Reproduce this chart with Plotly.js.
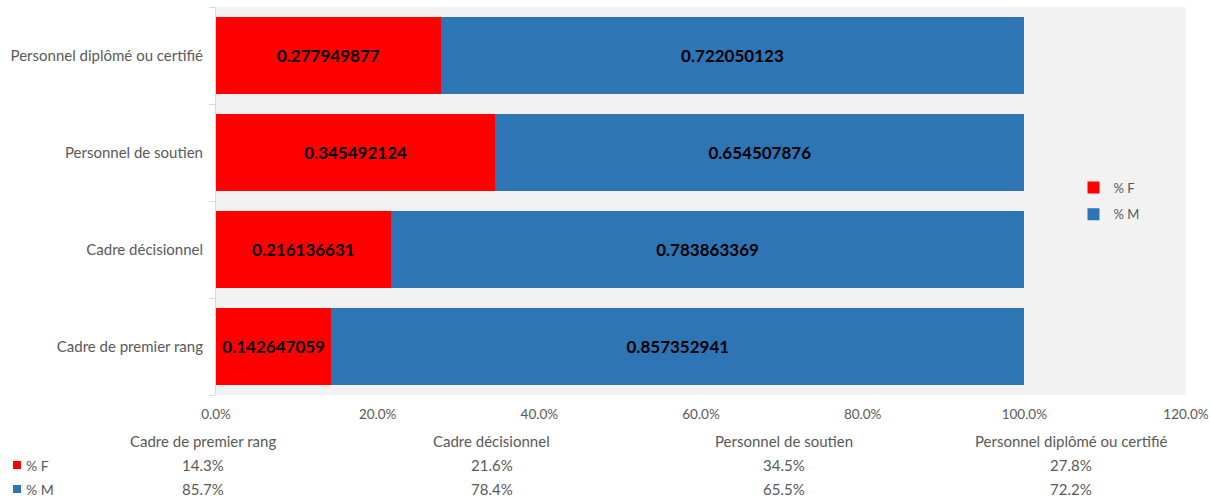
<!DOCTYPE html>
<html>
<head>
<meta charset="utf-8">
<script src="https://cdn.plot.ly/plotly-3.0.1.min.js"></script>
<style>html,body{margin:0;padding:0;background:#fff;}#chart{width:1210px;height:498px;}</style>
</head>
<body>
<div id="chart"></div>
<script>
const categories = ["Cadre de premier rang", "Cadre décisionnel", "Personnel de soutien", "Personnel diplômé ou certifié"];
const seriesNames = ["% F", "% M"];
const pctF = [0.142647059, 0.216136631, 0.345492124, 0.277949877];
const pctM = [0.857352941, 0.783863369, 0.654507876, 0.722050123];
const xTickVals = [0, 0.2, 0.4, 0.6, 0.8, 1.0, 1.2];

const colors = ["#ff0000", "#2e75b6"];
const grayText = "#595959";
const FONT = "Lato, 'Open Sans', sans-serif";

function barTrace(name, vals, color, group) {
  return {
    type: "bar", orientation: "h", name: name,
    y: categories, x: vals,
    text: vals.map(v => String(v)),
    textposition: "inside", insidetextanchor: "middle", textangle: 0,
    textfont: {family: FONT, size: 17, color: "#000", weight: "bold"},
    marker: {color: color, line: {width: 0}},
    legendgroup: group, hoverinfo: "x+y"
  };
}

const data = [
  barTrace(seriesNames[0], pctF, colors[0], "F"),
  barTrace(seriesNames[1], pctM, colors[1], "M")
];

// data-table annotations below plot
const colX = [-0.0134, 0.2845, 0.5856, 0.8814];
const rowY = {head: -0.1186, F: -0.180, M: -0.242};
const annotations = [];
categories.forEach((c, i) => {
  annotations.push({xref: "paper", yref: "paper", x: colX[i], y: rowY.head, text: c, showarrow: false,
    xanchor: "center", yanchor: "middle", font: {family: FONT, size: 15, color: grayText}});
  annotations.push({xref: "paper", yref: "paper", x: colX[i], y: rowY.F, text: (pctF[i] * 100).toFixed(1) + "%", showarrow: false,
    xanchor: "center", yanchor: "middle", font: {family: FONT, size: 15, color: grayText}});
  annotations.push({xref: "paper", yref: "paper", x: colX[i], y: rowY.M, text: (pctM[i] * 100).toFixed(1) + "%", showarrow: false,
    xanchor: "center", yanchor: "middle", font: {family: FONT, size: 15, color: grayText}});
});
// table legend keys
const plotL = 216, plotW = 970, plotB = 395, plotH = 388;
const px = v => (v - plotL) / plotW;
const py = v => (plotB - v) / plotH;
const shapes = [];
[["F", 465], ["M", 489]].forEach(([k, yy], i) => {
  shapes.push({type: "rect", xref: "paper", yref: "paper", x0: px(13), x1: px(21), y0: py(yy + 4), y1: py(yy - 4),
    fillcolor: colors[i], line: {width: 0}});
  annotations.push({xref: "paper", yref: "paper", x: px(24), y: py(yy), text: seriesNames[i], showarrow: false,
    xanchor: "left", yanchor: "middle", font: {family: FONT, size: 14, color: grayText}});
});

const layout = {
  width: 1210, height: 498,
  margin: {l: 216, r: 24, t: 7, b: 103, pad: 0},
  paper_bgcolor: "#ffffff", plot_bgcolor: "#f2f2f2",
  barmode: "stack", bargap: 0.2,
  font: {family: FONT, color: grayText},
  showlegend: true,
  legend: {x: 0.884, xanchor: "left", y: 0.5, yanchor: "middle", bgcolor: "rgba(0,0,0,0)",
    traceorder: "grouped", tracegroupgap: 7, font: {family: FONT, size: 13, color: grayText}},
  xaxis: {range: [0, 1.2], tickvals: xTickVals, tickformat: ".1%", showgrid: false, zeroline: false,
    showline: false, ticks: "", ticklabelstandoff: 9, tickfont: {family: FONT, size: 13.5, color: grayText}, fixedrange: true},
  yaxis: {type: "category", showgrid: false, zeroline: false, showline: true, linecolor: "#d9d9d9", linewidth: 1,
    ticks: "outside", ticklen: 6, tickcolor: "#d9d9d9", tickson: "boundaries", ticklabelstandoff: 9,
    tickfont: {family: FONT, size: 15, color: grayText}, fixedrange: true},
  uniformtext: {mode: "show", minsize: 17},
  annotations: annotations, shapes: shapes
};

Plotly.newPlot("chart", data, layout, {displayModeBar: false, staticPlot: true});
</script>
</body>
</html>
